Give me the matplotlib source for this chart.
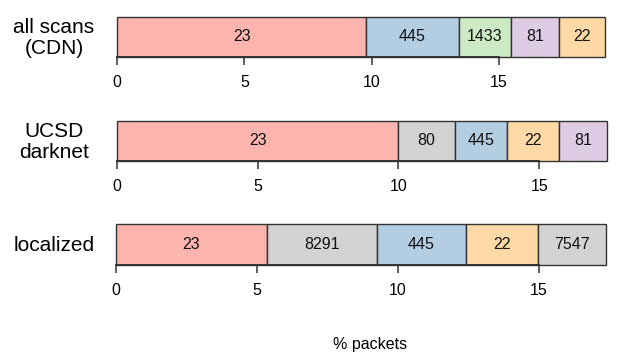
import matplotlib.pyplot as plt

plt.rcParams['font.family'] = ['Liberation Sans', 'DejaVu Sans']

# % of packets per destination port, stacked left to right
scans_ports = ['23', '445', '1433', '81', '22']
scans_pct = [9.77, 3.65, 2.05, 1.88, 1.81]

darknet_ports = ['23', '80', '445', '22', '81']
darknet_pct = [10.0, 2.0, 1.85, 1.84, 1.72]

local_ports = ['23', '8291', '445', '22', '7547']
local_pct = [5.38, 3.90, 3.13, 2.57, 2.41]

row_labels = ['all scans\n(CDN)', 'UCSD\ndarknet', 'localized']
xticks = [0, 5, 10, 15]

port_colors = {'23': '#FBB4AE', '445': '#B3CDE3', '1433': '#CCEBC5',
               '81': '#DECBE4', '22': '#FED9A6'}
other_color = '#D3D3D3'
edge = '#333333'

fig = plt.figure(figsize=(6.25, 3.64), dpi=100)

rows = [(scans_ports, scans_pct), (darknet_ports, darknet_pct), (local_ports, local_pct)]
# (left px, right px, top px, bottom px) of each bar box
boxes = [(117.2, 605, 16.7, 57), (116.7, 607.3, 120.7, 161), (115.7, 606, 224, 265)]
W, H = 625, 364

for (ports, pct), label, (x0, x1, y0, y1) in zip(rows, row_labels, boxes):
    ax = fig.add_axes([x0 / W, 1 - y1 / H, (x1 - x0) / W, (y1 - y0) / H])
    left = 0
    for p, v in zip(ports, pct):
        ax.barh(0, v, left=left, height=1, color=port_colors.get(p, other_color),
                edgecolor=edge, linewidth=1.0, align='edge', clip_on=False)
        ax.text(left + v / 2, 0.5, p, ha='center', va='center', fontsize=11.5, color='#111111')
        left += v
    ax.set_xlim(0, sum(pct))
    ax.set_ylim(0, 1)
    for s in ['top', 'right', 'left']:
        ax.spines[s].set_visible(False)
    ax.spines['bottom'].set_bounds(0, 15)
    ax.spines['bottom'].set_color(edge)
    ax.spines['bottom'].set_linewidth(1.4)
    ax.set_yticks([])
    ax.set_xticks(xticks)
    ax.tick_params(axis='x', direction='out', length=6, width=1.1, color=edge,
                   pad=7, labelsize=11.5)
    ax.spines['bottom'].set_zorder(5)
    fig.text(54 / W, 1 - ((y0 + y1) / 2 + 1) / H, label, ha='center', va='center',
             fontsize=15, linespacing=1.15)

fig.text(370 / W, 1 - 345 / H, '% packets', ha='center', va='center', fontsize=11.5)

fig.savefig('out.png', dpi=100)
